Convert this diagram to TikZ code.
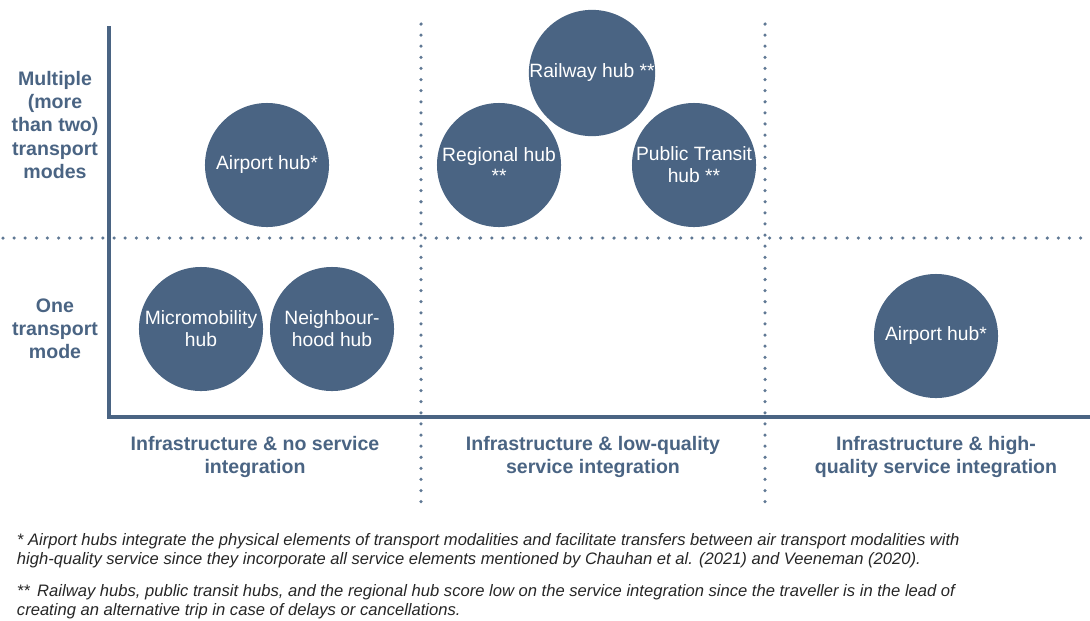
\documentclass[tikz,border=0pt]{standalone}
\usepackage{fontspec}
\setmainfont{Liberation Sans}
\definecolor{slate}{HTML}{4A6483}
\definecolor{dotslate}{HTML}{5F7894}
\begin{document}
\begin{tikzpicture}[x=0.025cm,y=-0.025cm,
    hub/.style={circle,fill=slate,text=white,minimum size=3.1cm,inner sep=0pt,align=center,font=\fontsize{13.7}{15.6}\selectfont},
    axislab/.style={text=slate,align=center,font=\fontsize{13.9}{16.4}\selectfont\bfseries},
    gridline/.style={dotslate,line width=2.5pt,line cap=round,dash pattern=on 0pt off 7.9pt},
    note/.style={anchor=north west,align=left,text=black!85,font=\fontsize{11.8}{14}\selectfont\itshape}]
    \useasboundingbox (0,0) rectangle (1090,620);

    \coordinate (hl) at (3,238);   \coordinate (hr) at (1088,238);
    \coordinate (v1t) at (421,24); \coordinate (v1b) at (421,511);
    \coordinate (v2t) at (765,24); \coordinate (v2b) at (765,511);
    \draw[gridline] (hl)--(hr);
    \draw[gridline] (v1t)--(v1b);
    \draw[gridline] (v2t)--(v2b);

    \coordinate (top) at (109,26); \coordinate (org) at (109,417); \coordinate (end) at (1090,417);
    \draw[slate,line width=2.6pt] (top)--(org)--(end);

    \node[axislab] (multi) at (55,125) {Multiple\\(more\\than two)\\transport\\modes};
    \node[axislab] (one) at (55,329) {One\\transport\\mode};

    \node[axislab] (none) at (255,457) {Infrastructure \& no service\\integration};
    \node[axislab] (low) at (593,457) {Infrastructure \& low-quality\\service integration};
    \node[axislab] (high) at (936,457) {Infrastructure \& high-\\quality service integration};

    \node[hub] (air1) at (267,165) {Airport hub*};
    \node[hub] (rail) at (592,73) {Railway hub **};
    \node[hub] (regio) at (499,165) {Regional hub\\**};
    \node[hub] (pt) at (694,165) {Public Transit\\hub **};
    \node[hub] (micro) at (201,329) {Micromobility\\hub};
    \node[hub] (neigh) at (332,329) {Neighbour-\\hood hub};
    \node[hub] (air2) at (936,336) {Airport hub*};

    \node[note] (n1) at (12,528) {* Airport hubs integrate the physical elements of transport modalities and facilitate transfers between air transport modalities with\\high-quality service since they incorporate all service elements mentioned by Chauhan et al. (2021) and Veeneman (2020).};
    \node[note] (n2) at (12,579) {**\, Railway hubs, public transit hubs, and the regional hub score low on the service integration since the traveller is in the lead of\\creating an alternative trip in case of delays or cancellations.};
\end{tikzpicture}
\end{document}
